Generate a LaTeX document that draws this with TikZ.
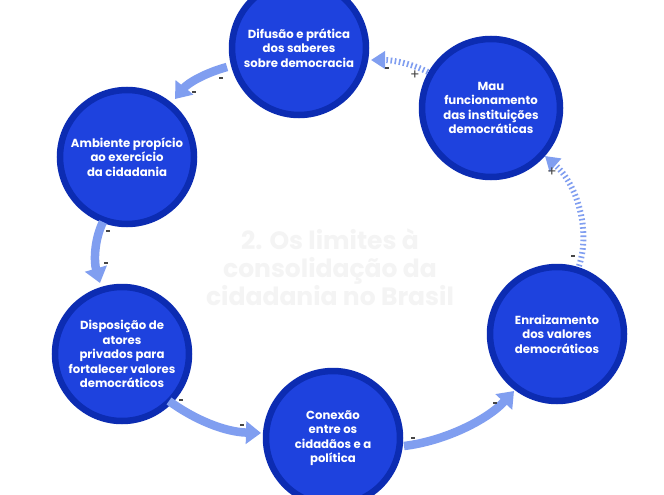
\documentclass[tikz,border=0pt]{standalone}
\usepackage{fontspec}
\setmainfont{Poppins}
\usetikzlibrary{arrows.meta}
\definecolor{cfill}{RGB}{30,66,222}
\definecolor{cborder}{RGB}{12,44,178}
\definecolor{arrblue}{RGB}{128,158,240}
\definecolor{faint}{RGB}{244,244,244}
\definecolor{signc}{RGB}{70,70,70}
\tikzset{
  bubble/.style={circle, fill=cfill, draw=cborder, line width=6.5pt, minimum size=#1, inner sep=0pt,
    text=white, font=\bfseries\fontsize{11.7}{14.4}\selectfont, align=center},
  bubble/.default=134pt,
  flow/.style={draw=arrblue, line width=8.5pt, -{Triangle[width=22pt,length=15pt]}},
  dflow/.style={draw=arrblue, line width=6pt, dash pattern=on 1.6pt off 2.6pt,
    -{Triangle[width=17pt,length=14pt]}},
  sign/.style={fill=signc, minimum width=4.5pt, minimum height=1.6pt, inner sep=0pt},
  psign/.style={text=signc, font=\fontsize{14}{14}\selectfont, inner sep=0pt},
}
\begin{document}
\begin{tikzpicture}[x=1pt,y=-1pt]
\useasboundingbox (0,0) rectangle (664,495);
\fill[white] (0,0) rectangle (664,495);
% center title
\node (title) at (330,267) [text=faint, font=\bfseries\fontsize{25}{28}\selectfont, align=center]
  {2. Os limites à\\consolidação da\\cidadania no Brasil};
% bubbles
\node[bubble] (dif) at (299,48) {Difusão e prática\\dos saberes\\sobre democracia};
\node[bubble=138pt] (mau) at (491,108) {Mau\\funcionamento\\das instituições\\democráticas};
\node[bubble] (amb) at (127,157) {Ambiente propício\\ao exercício\\da cidadania};
\node[bubble] (dis) at (122,354) {Disposição de\\atores\\privados para\\fortalecer valores\\democráticos};
\node[bubble] (con) at (333,438) {Conexão\\entre os\\cidadãos e a\\política};
\node[bubble] (enr) at (557,334) {Enraizamento\\dos valores\\democráticos};
% connector end points
\coordinate (a1) at (227,67);  \coordinate (a2) at (175,99);
\coordinate (b1) at (103,222); \coordinate (b2) at (100,283);
\coordinate (c1) at (169,401); \coordinate (c2) at (261,433);
\coordinate (d1) at (404,446); \coordinate (d2) at (514,391);
\coordinate (e1) at (579,266); \coordinate (e2) at (545,156);
\coordinate (f1) at (428,72);  \coordinate (f2) at (371,60);
% arrows
\draw[flow] (a1) .. controls (205,73) and (188,83) .. (a2);
\draw[flow] (b1) .. controls (94,240) and (94,262) .. (b2);
\draw[flow] (c1) .. controls (195,420) and (225,432) .. (c2);
\draw[flow] (d1) .. controls (445,441) and (487,420) .. (d2);
\draw[dflow] (e1) .. controls (591,230) and (577,184) .. (e2);
\draw[dflow] (f1) .. controls (410,63) and (392,60) .. (f2);
% signs
\node[sign] (s1) at (221,78) {};
\node[sign] (s2) at (194,92) {};
\node[sign] (s3) at (108,231) {};
\node[sign] (s4) at (106,263) {};
\node[sign] (s5) at (181,400) {};
\node[sign] (s6) at (242,425) {};
\node[sign] (s7) at (413,438) {};
\node[sign] (s8) at (495,403) {};
\node[sign] (s9) at (573,256) {};
\node[psign] (s10) at (552,172) {+};
\node[sign] (s11) at (387,68) {};
\node[psign] (s12) at (415,75) {+};
\end{tikzpicture}
\end{document}
